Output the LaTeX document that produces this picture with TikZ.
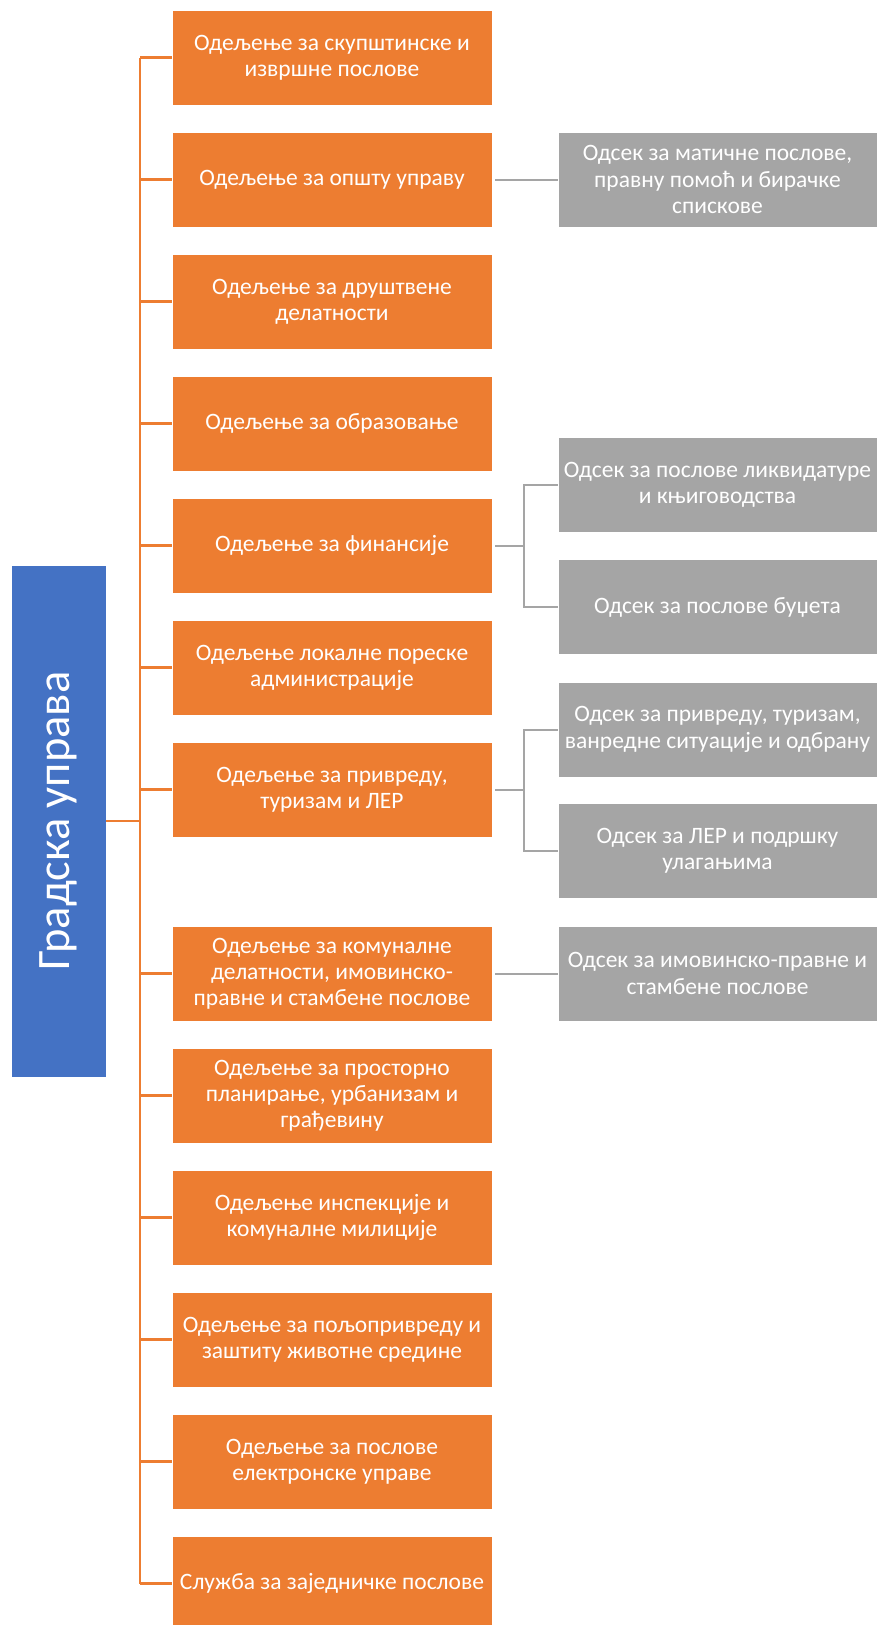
\documentclass[tikz,border=0pt]{standalone}
\usepackage{fontspec}
\setmainfont{Carlito}
\definecolor{offorange}{HTML}{ED7D31}
\definecolor{offblue}{HTML}{4472C4}
\definecolor{offgray}{HTML}{A5A5A5}
\tikzset{
  dept/.style={fill=offorange, draw=white, line width=0.6pt, minimum width=320pt, minimum height=95pt, align=center, text=white, inner sep=0pt, font=\fontsize{23.5}{26}\selectfont},
  sect/.style={fill=offgray, draw=white, line width=0.6pt, minimum width=319pt, minimum height=95pt, align=center, text=white, inner sep=0pt, font=\fontsize{23.5}{26.5}\selectfont},
  headbox/.style={fill=offblue, draw=white, line width=0.6pt, minimum width=95pt, minimum height=512pt, inner sep=0pt},
  oline/.style={draw=offorange, line width=2.6pt},
  gline/.style={draw=offgray, line width=2pt}
}
\begin{document}
\begin{tikzpicture}[x=1pt,y=-1pt]
\useasboundingbox (0,0) rectangle (877,1625);
% head
\node[headbox] (head) at (58.5,821) {};
\node[rotate=90, text=white, font=\fontsize{46.5}{50}\selectfont] (headtxt) at (head.center) {Градска управа};
% departments
\node[dept] (o1) at (332,57.5) {Одељење за скупштинске и\\извршне послове};
\node[dept] (o2) at (332,179.5) {Одељење за општу управу};
\node[dept] (o3) at (332,301.5) {Одељење за друштвене\\делатности};
\node[dept] (o4) at (332,423.5) {Одељење за образовање};
\node[dept] (o5) at (332,545.5) {Одељење за финансије};
\node[dept] (o6) at (332,667.5) {Одељење локалне пореске\\администрације};
\node[dept] (o7) at (332,789.5) {Одељење за привреду,\\туризам и ЛЕР};
\node[dept] (o8) at (332,973.5) {Одељење за комуналне\\делатности, имовинско-\\правне и стамбене послове};
\node[dept] (o9) at (332,1095.5) {Одељење за просторно\\планирање, урбанизам и\\грађевину};
\node[dept] (o10) at (332,1217.5) {Одељење инспекције и\\комуналне милиције};
\node[dept] (o11) at (332,1339.5) {Одељење за пољопривреду и\\заштиту животне средине};
\node[dept] (o12) at (332,1461.5) {Одељење за послове\\електронске управе};
\node[dept] (o13) at (332,1583.5) {Служба за заједничке послове};
% sections
\node[sect] (g1) at (717.5,179.5) {Одсек за матичне послове,\\правну помоћ и бирачке\\спискове};
\node[sect] (g2) at (717.5,485) {Одсек за послове ликвидатуре\\и књиговодства};
\node[sect] (g3) at (717.5,607) {Одсек за послове буџета};
\node[sect] (g4) at (717.5,729.5) {Одсек за привреду, туризам,\\ванредне ситуације и одбрану};
\node[sect] (g5) at (717.5,851) {Одсек за ЛЕР и подршку\\улагањима};
\node[sect] (g6) at (717.5,973.5) {Одсек за имовинско-правне и\\стамбене послове};
% orange trunk
\coordinate (tr) at (140,821);
\draw[oline] (head.east) -- (tr);
\draw[oline] (tr |- o1.west) -- (tr |- o13.west);
\foreach \i in {1,...,13} {
  \draw[oline] (tr |- o\i.west) -- (o\i.west);
}
% gray connectors
\draw[gline, shorten <=3pt] (o2.east) -- (g1.west);
\draw[gline, shorten <=3pt] (o8.east) -- (g6.west);
\coordinate (fa) at (523.5,545.5);
\draw[gline, shorten <=3pt] (o5.east) -- (fa);
\draw[gline] (g2.west) -- (fa |- g2.west) -- (fa |- g3.west) -- (g3.west);
\coordinate (fb) at (523.5,789.5);
\draw[gline, shorten <=3pt] (o7.east) -- (fb);
\draw[gline] (g4.west) -- (fb |- g4.west) -- (fb |- g5.west) -- (g5.west);
\end{tikzpicture}
\end{document}
